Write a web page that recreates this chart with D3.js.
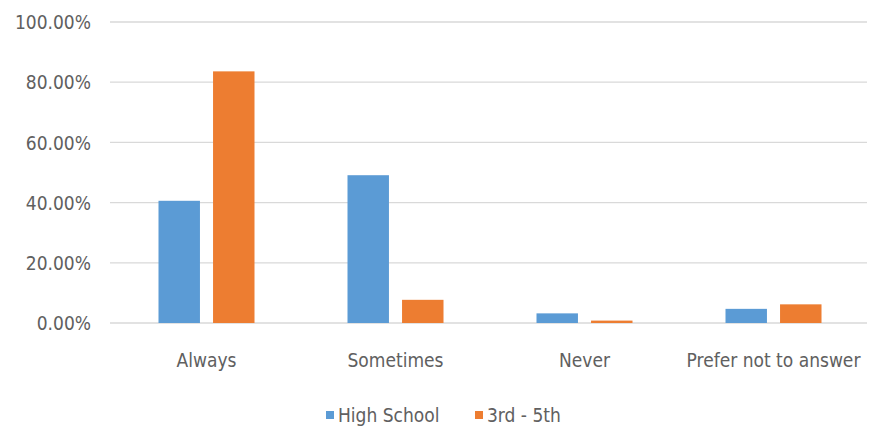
<!DOCTYPE html>
<html><head><meta charset="utf-8">
<script src="https://cdn.jsdelivr.net/npm/d3@7"></script>
<style>
html,body{margin:0;padding:0;background:#fff;}
text{font-family:"DejaVu Sans Condensed","Liberation Sans Narrow","Open Sans",sans-serif;fill:#606060;}
</style></head>
<body>
<svg id="c" width="871" height="432"></svg>
<script>
const categories = ["Always", "Sometimes", "Never", "Prefer not to answer"];
const seriesNames = ["High School", "3rd - 5th"];
const highSchool = [0.406, 0.491, 0.032, 0.047];
const grades3to5 = [0.836, 0.077, 0.008, 0.062];
const yTicks = [0, 0.2, 0.4, 0.6, 0.8, 1.0];
const colors = ["#5B9BD5", "#ED7D31"];

const svg = d3.select("#c");
const margin = {left: 112, right: 3, top: 22, bottom: 109};
const W = 871, H = 432;
const FS = 19;
const x0 = d3.scaleBand().domain(categories).range([margin.left, W - margin.right]).padding(0);
const x1 = d3.scaleBand().domain(seriesNames).range([0, 96]).paddingInner(0.24).paddingOuter(0);
const y = d3.scaleLinear().domain([0, 1]).range([H - margin.bottom, margin.top]);

// gridlines
svg.append("g").selectAll("line").data(yTicks).join("line")
  .attr("x1", 110).attr("x2", W - 4)
  .attr("y1", d => y(d)).attr("y2", d => y(d))
  .attr("stroke", "#D9D9D9").attr("stroke-width", 1.3);

// y axis labels
const yAxis = d3.axisLeft(y).tickValues(yTicks).tickFormat(d => (d * 100).toFixed(2) + "%").tickSize(0).tickPadding(0);
const ga = svg.append("g").attr("transform", "translate(91,0)").call(yAxis);
ga.select(".domain").remove();
ga.selectAll("text").attr("font-size", FS).attr("dy", "0.35em").style("font-family", null);

const data = categories.map((c, i) => ({cat: c, vals: [highSchool[i], grades3to5[i]]}));
const groups = svg.append("g").selectAll("g").data(data).join("g")
  .attr("transform", d => `translate(${x0(d.cat) + x0.bandwidth() / 2 - 48},0)`);
groups.selectAll("rect").data(d => d.vals.map((v, j) => ({s: seriesNames[j], v, j}))).join("rect")
  .attr("x", d => x1(d.s)).attr("width", x1.bandwidth())
  .attr("y", d => y(d.v)).attr("height", d => y(0) - y(d.v))
  .attr("fill", d => colors[d.j]);

// x axis labels
const xAxis = d3.axisBottom(x0).tickSize(0).tickPadding(0);
const gx = svg.append("g").attr("transform", `translate(0,${y(0)})`).call(xAxis);
gx.select(".domain").remove();
gx.selectAll("text").attr("font-size", FS).attr("dy", "2.3em").style("font-family", null);

// legend
const legend = svg.append("g").attr("transform", "translate(0,415)");
const litems = [{n: seriesNames[0], x: 326}, {n: seriesNames[1], x: 475}];
litems.forEach((it, i) => {
  legend.append("rect").attr("x", it.x).attr("y", -4).attr("width", 8).attr("height", 8).attr("fill", colors[i]);
  legend.append("text").attr("x", it.x + 12).attr("y", 0).attr("dy", "0.35em").attr("font-size", FS).text(it.n);
});
</script>
</body></html>
